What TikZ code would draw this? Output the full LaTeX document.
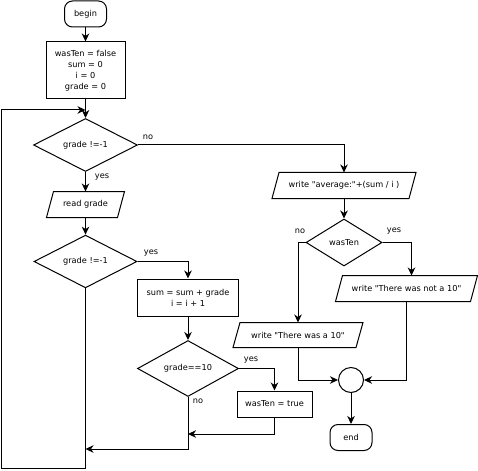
\documentclass[tikz,border=0pt]{standalone}
\usepackage{fontspec}
\setmainfont{DejaVu Sans}[Ligatures=TeXOff]
\usetikzlibrary{shapes.geometric,arrows.meta}
\begin{document}
\begin{tikzpicture}[x=1pt,y=-1pt,
  font=\fontsize{8.2}{10.9}\selectfont,
  line width=1pt,
  >={Stealth[length=8pt,width=7.5pt,inset=2.5pt]},
  term/.style={draw, rounded corners=8pt, inner sep=0pt, minimum width=42pt, minimum height=26pt},
  proc/.style={draw, inner sep=0pt, align=center},
  dec/.style={draw, diamond, inner sep=0pt},
  io/.style={inner sep=0pt},
  lbl/.style={inner sep=0pt}]
\useasboundingbox[fill=white] (0,0) rectangle (478,470);
% nodes
\node[term] (begin) at (85.5,14) {begin};
\node[proc, minimum width=79pt, minimum height=57pt] (init) at (85.5,70.5) {wasTen = false\\sum = 0\\i = 0\\grade = 0};
\node[dec, minimum width=104pt, minimum height=53pt] (d1) at (85.5,145) {grade !=-1};
\node[io, minimum width=70pt, minimum height=25pt] (rd) at (85.5,204.5) {read grade};
\node[dec, minimum width=103pt, minimum height=51pt] (d2) at (85.5,261.5) {grade !=-1};
\node[proc, minimum width=101pt, minimum height=37pt] (sum) at (188,297.5) {sum = sum + grade\\i = i + 1};
\node[dec, minimum width=101pt, minimum height=51pt] (d3) at (188,368.5) {grade==10};
\node[proc, minimum width=75pt, minimum height=26pt] (wt) at (274.5,404) {wasTen = true};
\node[io, minimum width=136pt, minimum height=25pt] (wa) at (344,185.5) {write "average:"+(sum / i )};
\node[dec, minimum width=76pt, minimum height=47pt] (dw) at (344,242.5) {wasTen};
\node[io, minimum width=134pt, minimum height=25pt] (wn) at (406.5,288.5) {write "There was not a 10"};
\node[io, minimum width=122pt, minimum height=24pt] (w10) at (298,335) {write "There was a 10"};
\node[circle, draw, minimum size=25pt, inner sep=0pt] (c) at (351,380) {};
\node[term] (end) at (351,437.5) {end};
% parallelograms
\foreach \n in {rd,wa,wn,w10}
  \draw ([xshift=3.5pt]\n.north west) -- ([xshift=3.5pt]\n.north east)
     -- ([xshift=-3.5pt]\n.south east) -- ([xshift=-3.5pt]\n.south west) -- cycle;
% helper coordinates
\coordinate (lb) at (1,468);
\coordinate (lt) at (1,110);
\coordinate (lin) at (85.5,110);
\coordinate (j1) at (85.5,449);
\coordinate (j2) at (188,434);
% connectors
\draw[->] (begin) -- (init);
\draw[->] (init) -- (d1);
\draw[->] (d1) -- (rd);
\draw[->] (rd) -- (d2);
\draw[->] (d1.east) -| (wa.north);
\draw[->] (d2.east) -| (sum.north);
\draw[->] (sum) -- (d3);
\draw[->] (d3.east) -| (wt.north);
\draw[->] (wa) -- (dw);
\draw[->] (dw.west) -| (w10.north);
\draw[->] (dw.east) -| ([xshift=5pt]wn.north);
\draw[->] (w10.south) |- (c.west);
\draw[->] (wn.south) |- (c.east);
\draw[->] (c) -- (end);
\draw[->] (d2.south) -- (d2.south |- lb) -- (lb) -- (lt) -- (lin);
\draw[->] (d3.south) |- (j1);
\draw[->] (wt.south) |- (j2);
% labels
\node[lbl] at (148,137) {no};
\node[lbl] at (102,177) {yes};
\node[lbl] at (151,253) {yes};
\node[lbl] at (198,401) {no};
\node[lbl] at (251,360) {yes};
\node[lbl] at (300,231) {no};
\node[lbl] at (394,231) {yes};
\end{tikzpicture}
\end{document}
